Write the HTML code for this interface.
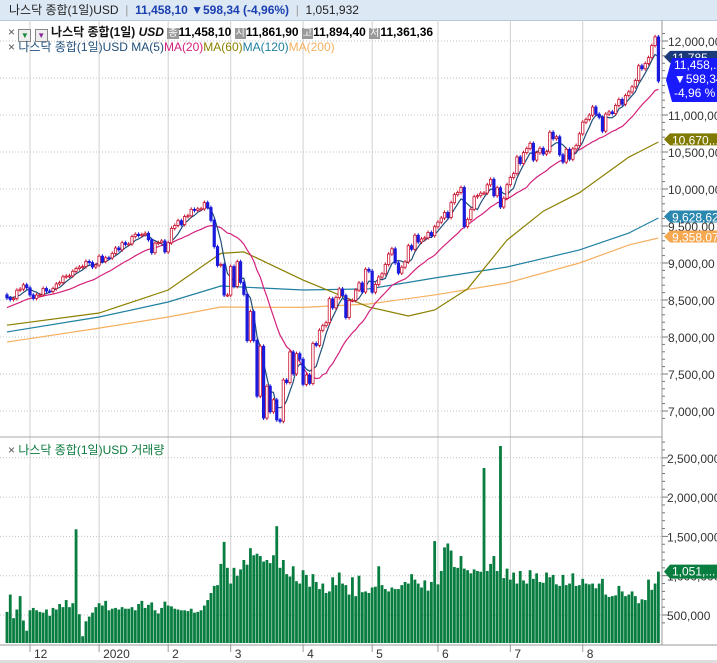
<!DOCTYPE html>
<html><head><meta charset="utf-8">
<style>
body{margin:0;background:#fff;font-family:"Liberation Sans","Noto Sans CJK KR",sans-serif;}
#wrap{position:relative;width:717px;height:663px;overflow:hidden;background:#fff;}
#hdr{position:absolute;left:0;top:0;width:717px;height:20px;background:#dde8f5;border-bottom:1px solid #b8c8dc;font-size:12px;line-height:20px;white-space:nowrap;}
.t{position:absolute;font-size:12px;white-space:nowrap;}
svg{position:absolute;left:0;top:0;}
</style></head><body>
<div id="wrap">
<div id="hdr">
 <span style="margin-left:9px;color:#222">나스닥 종합(1일)USD</span>
 <span style="color:#999">&nbsp;|&nbsp;</span>
 <b style="color:#1a3fb0">11,458,10 ▼598,34 (-4,96%)</b>
 <span style="color:#999">&nbsp;|&nbsp;</span>
 <span style="color:#222">1,051,932</span>
</div>
<svg id="svg" width="717" height="663"></svg>
<div class="t" style="left:8px;top:23px;font-size:12px;">
 <span style="color:#555">×</span>
 <span style="display:inline-block;width:11px;height:11px;border:1px solid #888;background:#eee;vertical-align:-2px;font-size:8px;text-align:center;line-height:11px;color:#1a8a3a">▼</span>
 <span style="display:inline-block;width:11px;height:11px;border:1px solid #888;background:#eee;vertical-align:-2px;font-size:8px;text-align:center;line-height:11px;color:#8a2a9a">▼</span>
 <b style="color:#111">나스닥 종합(1일)</b> <b><i style="color:#111">USD</i></b>
 <span style="background:#999;color:#fff;font-size:10px;padding:0 1px">종</span><b>11,458,10</b>
 <span style="background:#999;color:#fff;font-size:10px;padding:0 1px">시</span><b>11,861,90</b>
 <span style="background:#999;color:#fff;font-size:10px;padding:0 1px">고</span><b>11,894,40</b>
 <span style="background:#999;color:#fff;font-size:10px;padding:0 1px">저</span><b>11,361,36</b>
</div>
<div class="t" style="left:8px;top:38px;font-size:12px;">
 <span style="color:#555">×</span> <span style="color:#1f4e79">나스닥 종합(1일)USD MA(5)</span><span style="color:#d4207c">MA(20)</span><span style="color:#8b8000">MA(60)</span><span style="color:#2080a0">MA(120)</span><span style="color:#f5b060">MA(200)</span>
</div>
<div class="t" style="left:8px;top:441px;color:#0a7a3d"><span style="color:#555">×</span> 나스닥 종합(1일)USD 거래량</div>
</div>
<script>
const preCloses=[8119,8186,8243,8325,8276,8303,8292,8386,8433,8435,8410,8434,8464,8479,8486,8482,8540,8550,8570];
const closes=[8527,8506,8520,8632,8647,8705,8665,
8568,8521,8567,8570,8656,8621,8616,8654,8717,8735,8814,8823,8827,8887,8924,8945,8952,9022,9006,8945,8972,
9092,9020,9071,9068,9129,9203,9178,9274,9251,9258,9357,9388,9370,9383,9402,9314,9139,9269,9275,9298,9150,
9273,9467,9508,9572,9520,9628,9638,9725,9711,9731,9732,9817,9750,9577,9221,8966,8980,8567,8567,
8952,8684,9018,8738,8576,7950,8344,7952,7201,7875,6905,7335,6989,7151,6880,6861,7418,7385,7798,7502,7775,7700,
7360,7487,7373,7913,7887,8091,8153,8193,8516,8394,8533,8650,8561,8263,8495,8495,8634,8730,8608,8915,8890,
8605,8711,8810,8854,8980,9121,9192,9002,8863,8943,9015,9234,9185,9375,9284,9325,9340,9412,9369,9490,
9552,9608,9683,9616,9815,9924,9953,10020,9493,9589,9726,9895,9910,9943,9946,10056,10131,9909,10017,9757,9875,10058,
10155,10208,10433,10344,10492,10548,10617,10391,10489,10550,10473,10503,10767,10680,10706,10462,10363,10536,10402,10542,10587,10745,
10903,10941,10998,11108,11011,10968,10782,11012,11042,11019,11129,11210,11146,11264,11312,11380,11466,11665,11625,11696,11775,
11939,12056,11458];
const volumes=[540,760,460,570,740,430,300,
560,590,560,540,530,570,490,590,570,640,600,690,600,650,1590,510,230,420,480,530,600,
650,620,680,560,580,590,570,600,580,580,600,560,640,680,590,630,660,560,520,590,670,
620,610,580,570,560,560,550,580,530,540,560,620,690,780,870,880,1150,1430,1100,
900,1100,1000,1080,1200,1140,1350,1260,1280,1250,1180,1200,1160,1260,1630,1100,1200,1020,990,1120,930,900,
1070,1010,860,1020,920,830,900,780,800,980,880,1040,900,880,760,980,740,1000,790,800,780,
850,860,1120,880,830,800,850,830,830,880,920,900,1020,950,900,850,940,810,920,1440,
890,1060,1360,1410,1320,1110,1100,1250,1090,1070,1030,1080,1060,1050,2370,1060,1150,1250,1060,2650,970,1090,
950,1040,900,1060,940,900,1070,960,1030,920,910,1040,980,1010,890,870,1010,880,900,1030,870,880,
960,900,890,900,840,900,960,760,730,740,750,870,800,740,760,800,740,650,700,690,950,
820,900,1052];
const ma60Idx=[0,28,49,65,72,90,110,122,130,140,152,163,174,189,198];
const ma60Val=[8160,8324,8635,9130,9150,8770,8405,8284,8365,8650,9310,9700,9950,10430,10635];
const ma120Idx=[0,28,49,65,90,110,130,152,174,189,198];
const ma120Val=[8068,8270,8473,8689,8635,8650,8797,8946,9176,9405,9608];
const ma200Idx=[0,28,49,65,90,110,130,152,174,189,198];
const ma200Val=[7932,8120,8270,8405,8400,8446,8568,8730,9000,9243,9338];
const priceTicks=[7000,7500,8000,8500,9000,9500,10000,10500,11000,11500,12000];
const volTicks=[500,1000,1500,2000,2500];
const volTickLabels=["500,000","1,000,000","1,500,000","2,000,000","2,500,000"];
const monthIdx=[7,28,49,68,90,111,131,153,175];
const monthLabels=["12","2020","2","3","4","5","6","7","8"];

const svg=document.getElementById('svg');const NS='http://www.w3.org/2000/svg';
function mk(t,a,p){const e=document.createElementNS(NS,t);for(const k in a)e.setAttribute(k,a[k]);(p||svg).appendChild(e);return e;}
const X=i=>30+(i-7)*3.29;
const Y=v=>41+(12000-v)*0.074;
const VY=v=>Math.min(643,615-(v-500)*0.0786);
const fmt=v=>v.toLocaleString('en-US')+',00';
const AX=662;
// grids
const grid=mk('g',{});
monthIdx.forEach(i=>{mk('line',{x1:X(i),x2:X(i),y1:20,y2:645,stroke:'#d0d0d0','stroke-width':1},grid);});
priceTicks.forEach(v=>{mk('line',{x1:0,x2:AX,y1:Y(v),y2:Y(v),stroke:'#c0c0c0','stroke-dasharray':'1,2'},grid);});
volTicks.forEach(v=>{mk('line',{x1:0,x2:AX,y1:VY(v),y2:VY(v),stroke:'#c0c0c0','stroke-dasharray':'1,2'},grid);});
mk('line',{x1:0,x2:AX,y1:437,y2:437,stroke:'#aaa'});
mk('line',{x1:0,x2:717,y1:645,y2:645,stroke:'#999'});
mk('line',{x1:AX,x2:AX,y1:20,y2:645,stroke:'#999'});
// price axis
const pax=mk('g',{});
for(let v=6900;v<=12100;v+=100){const y=Y(v);if(y<21||y>436)continue;mk('line',{x1:AX,x2:AX+(v%500?3:6),y1:y,y2:y,stroke:'#777'},pax);}
priceTicks.forEach(v=>{const t=mk('text',{x:AX+6,y:Y(v)+5,'font-size':12,fill:'#333','font-family':'Liberation Sans'},pax);t.textContent=fmt(v);});
const vax=mk('g',{});
for(let v=400;v<=2700;v+=100){const y=VY(v);if(y<438||y>=643)continue;mk('line',{x1:AX,x2:AX+(v%500?3:6),y1:y,y2:y,stroke:'#777'},vax);}
volTicks.forEach((v,k)=>{const t=mk('text',{x:AX+5,y:VY(v)+5,'font-size':12,fill:'#333','font-family':'Liberation Sans'},vax);t.textContent=volTickLabels[k];});
monthIdx.forEach((i,k)=>{mk('line',{x1:X(i),x2:X(i),y1:645,y2:652,stroke:'#999'});const t=mk('text',{x:X(i)+4,y:658,'font-size':12,fill:'#333','font-family':'Liberation Sans'});t.textContent=monthLabels[k];});
mk('rect',{x:0,y:660,width:717,height:3,fill:'#ddd'});
// volume bars
volumes.forEach((v,i)=>{const r=mk('rect',{x:X(i)-1.4,y:VY(v),width:2.8,height:643-VY(v),fill:'#087d40'});

});
// MAs
function line(idx,vals,color,name){const p=mk('polyline',{points:idx.map((i,k)=>X(i)+','+Y(vals[k])).join(' '),fill:'none',stroke:color,'stroke-width':1.2});

}
line(ma200Idx,ma200Val,'#f5b060','ma200-line');
line(ma120Idx,ma120Val,'#2080a0','ma120-line');
line(ma60Idx,ma60Val,'#8b8000','ma60-line');
const all=preCloses.concat(closes);
function sma(n){const idx=[],vals=[];for(let i=0;i<closes.length;i++){const j=i+preCloses.length;if(j-n+1<0)continue;let s=0;for(let k=j-n+1;k<=j;k++)s+=all[k];idx.push(i);vals.push(s/n);}return[idx,vals];}
const m20=sma(20);line(m20[0],m20[1],'#d4207c','ma20-line');
const m5=sma(5);line(m5[0],m5[1],'#1f4e79','ma5-line');
// candles
closes.forEach((c,i)=>{const o=i?closes[i-1]:preCloses[preCloses.length-1];const up=c>=o;const col=up?'#c8102e':'#1a1adc';
const y1=Y(Math.max(o,c)),y2=Y(Math.min(o,c));
const g=mk('g',{});


mk('line',{x1:X(i),x2:X(i),y1:y1-2,y2:y2+2,stroke:col},g);
mk('rect',{x:X(i)-1.2,y:y1,width:2.4,height:Math.max(1,y2-y1),fill:up?'#fff':col,stroke:col,'stroke-width':0.8},g);});
// value tags
function tag(y,h,color,txt,name,x){const g=mk('g',{});
x=x||664;mk('polygon',{points:`${x},${y+h/2} ${x+6},${y} 717,${y} 717,${y+h} ${x+6},${y+h}`,fill:color},g);
txt.forEach((s,k)=>{const t=mk('text',{x:x+8,y:y+11+k*14,'font-size':12,fill:'#fff','font-family':'Liberation Sans'},g);t.textContent=s;});}
tag(Y(10670)-6,12,'#807a00',['10,670,..'],'ma60-value-tag');
tag(Y(9628)-6,12,'#2a88b0',['9,628,62'],'ma120-value-tag');
tag(Y(9358)-6,12,'#f5a850',['9,358,07'],'ma200-value-tag');
tag(Y(11785)-6,12,'#1a3a7a',['11,785'],'ma5-value-tag');
tag(58,44,'#1a1aff',['11,458,..','▼598,34','-4,96 %'],'close-value-tag',666);
tag(VY(1052)-7,14,'#087d40',['1,051,...'],'volume-value-tag');
</script>
</body></html>
